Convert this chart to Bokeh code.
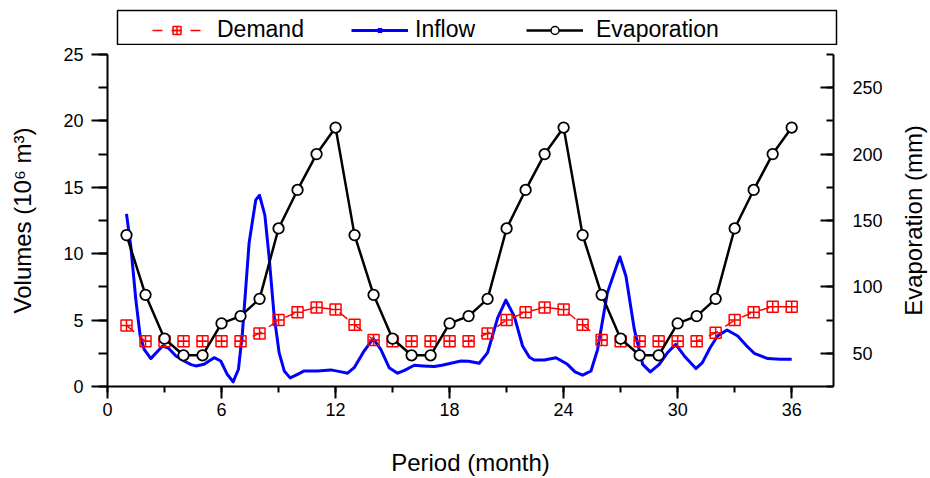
from bokeh.plotting import figure
from bokeh.layouts import column, row
from bokeh.models import (Range1d, LinearAxis, SingleIntervalTicker, Legend,
                          LegendItem, BoxAnnotation, Label)
from bokeh.embed import file_html
from bokeh.resources import INLINE
import math

# ---------------- data ----------------
months = list(range(1, 37))

demand = [4.6, 3.4, 3.4, 3.4, 3.4, 3.4, 3.4, 4.0, 5.0, 5.6, 5.95, 5.8,
          4.65, 3.5, 3.4, 3.4, 3.4, 3.4, 3.4, 4.0, 5.0, 5.6, 5.95, 5.8,
          4.65, 3.5, 3.4, 3.4, 3.4, 3.4, 3.4, 4.05, 5.0, 5.6, 6.0, 6.0]

evaporation = [139, 94, 61, 48.5, 48.5, 72.5, 78, 91, 144, 173, 200, 220,
               139, 94, 61, 48.5, 48.5, 72.5, 78, 91, 144, 173, 200, 220,
               139, 94, 61, 48.5, 48.5, 72.5, 78, 91, 144, 173, 200, 220]

# inflow curve, read along the drawn (smoothed) line
inflow_month = [1.0, 1.23, 1.49, 1.72, 1.93, 2.28, 2.6, 2.9, 3.2, 3.6,
                4.03, 4.4, 4.65, 5.08, 5.61, 5.96, 6.3, 6.61, 6.89, 7.1,
                7.45, 7.8, 8.0, 8.28, 8.5, 8.77, 9.03, 9.3, 9.61, 10.0,
                10.35, 11.05, 11.75, 12.3, 12.63, 12.98, 13.5, 13.98, 14.38, 14.82,
                15.26, 15.6, 16.14, 16.6, 17.19, 17.6, 18.07, 18.6, 19.0, 19.56,
                20.0, 20.53, 20.96, 21.4, 21.84, 22.2, 22.45, 22.98, 23.6, 24.2,
                24.6, 25.0, 25.44, 25.79, 26.3, 26.84, 26.96, 27.28, 27.72, 28.16,
                28.56, 29.03, 29.5, 29.9, 30.35, 30.96, 31.3, 31.7, 32.1, 32.6,
                33.16, 33.6, 34.03, 34.74, 35.4, 36.0]
inflow = [13.0, 10.5, 6.55, 3.8, 2.8, 2.1, 2.6, 3.05, 2.9, 2.3,
          1.92, 1.65, 1.55, 1.67, 2.17, 1.92, 0.92, 0.35, 1.3, 4.05,
          10.8, 14.05, 14.4, 12.9, 9.8, 5.3, 2.55, 1.17, 0.65, 0.92,
          1.17, 1.17, 1.25, 1.1, 1.0, 1.42, 2.67, 3.6, 2.8, 1.42,
          1.0, 1.2, 1.6, 1.55, 1.5, 1.6, 1.75, 1.92, 1.9, 1.75,
          2.55, 5.17, 6.5, 5.3, 3.05, 2.2, 2.0, 2.0, 2.17, 1.67,
          1.1, 0.85, 1.17, 2.8, 7.05, 9.3, 9.75, 8.3, 4.3, 1.67,
          1.1, 1.67, 2.6, 3.17, 2.3, 1.35, 1.8, 2.9, 3.8, 4.25,
          3.8, 3.1, 2.5, 2.1, 2.05, 2.05]

FONT = "Liberation Sans"
RED = "#FF0000"
BLUE = "#0000FF"

# ---------------- main plot ----------------
p = figure(width=890, height=433, output_backend="svg", toolbar_location=None,
           x_range=Range1d(0, 38.2), y_range=Range1d(0, 25),
           min_border_left=107, min_border_right=57, min_border_top=9,
           min_border_bottom=91,
           x_axis_label="Period (month)", y_axis_label="Volumes (10⁶ m³)")
p.extra_y_ranges = {"evap": Range1d(25, 275)}
p.outline_line_color = None
p.grid.visible = False
p.background_fill_color = "white"
p.border_fill_color = "white"


def style(ax):
    ax.axis_line_width = 2
    ax.axis_line_color = "black"
    ax.major_tick_line_width = 2
    ax.minor_tick_line_width = 2
    ax.major_tick_line_color = "black"
    ax.minor_tick_line_color = "black"
    ax.major_label_text_font = FONT
    ax.major_label_text_font_size = "18px"
    ax.major_label_text_color = "black"
    ax.axis_label_text_font = FONT
    ax.axis_label_text_font_size = "24px"
    ax.axis_label_text_font_style = "normal"
    ax.axis_label_text_color = "black"


xa = p.xaxis[0]
style(xa)
xa.ticker = SingleIntervalTicker(interval=6, num_minor_ticks=2)
xa.major_tick_in = 0
xa.major_tick_out = 12
xa.minor_tick_in = 0
xa.minor_tick_out = 6
xa.major_label_standoff = 4
xa.axis_label_standoff = 30

ya = p.yaxis[0]
style(ya)
ya.ticker = SingleIntervalTicker(interval=5, num_minor_ticks=2)
ya.major_tick_in = 0
ya.major_tick_out = 16
ya.minor_tick_in = 0
ya.minor_tick_out = 9
ya.major_label_standoff = 8
ya.axis_label_standoff = 24

ra = LinearAxis(y_range_name="evap",
                ticker=SingleIntervalTicker(interval=50, num_minor_ticks=2))
style(ra)
ra.major_tick_in = 13
ra.major_tick_out = 0
ra.minor_tick_in = 7
ra.minor_tick_out = 0
ra.major_label_standoff = 19
p.add_layout(ra, "right")

# ---------------- series ----------------
p.line(inflow_month, inflow, line_color=BLUE, line_width=3,
       line_join="round")

p.line(months, demand, line_color=RED, line_width=1.5, line_dash="10 9")
p.scatter(months, demand, marker="square_cross", size=11,
          fill_alpha=0, line_color=RED, line_width=1.5)

p.line(months, evaporation, y_range_name="evap",
       line_color="black", line_width=2.5, line_join="round")
p.scatter(months, evaporation, y_range_name="evap", marker="circle",
          size=10.5, fill_color="white", line_color="black", line_width=1.8)

# ---------------- right-hand axis title (reads bottom to top) ----------------
rf = figure(width=40, height=433, output_backend="svg", toolbar_location=None,
            x_range=Range1d(890, 930), y_range=Range1d(0, 1),
            x_axis_type=None, y_axis_type=None,
            min_border_left=0, min_border_right=0, min_border_top=9,
            min_border_bottom=91)
rf.outline_line_color = None
rf.background_fill_color = "white"
rf.border_fill_color = "white"
rf.add_layout(Label(x=913, y=0.5, text="Evaporation (mm)", angle=math.pi / 2,
                    text_align="center", text_baseline="middle",
                    text_font=FONT, text_font_size="24px", text_color="black"))

# ---------------- legend strip above the plot ----------------
lf = figure(width=930, height=45, output_backend="svg", toolbar_location=None,
            x_range=Range1d(107, 840), y_range=Range1d(45, 0),
            x_axis_type=None, y_axis_type=None,
            min_border_left=107, min_border_right=90, min_border_top=0,
            min_border_bottom=0)
lf.outline_line_color = None
lf.background_fill_color = "white"
lf.border_fill_color = "white"

# legend-key renderers (their data lie outside this strip's ranges)
d_line = lf.line(months, demand, line_color=RED, line_width=1.5,
                 line_dash="10 9")
d_pts = lf.scatter(months, demand, marker="square_cross", fill_alpha=0,
                   line_color=RED, line_width=1.5)
i_line = lf.line(inflow_month, inflow, line_color=BLUE, line_width=3)
i_pts = lf.scatter(inflow_month, inflow, marker="square", fill_color=BLUE,
                   line_color=BLUE)
e_line = lf.line(months, evaporation, line_color="black", line_width=2.5)
e_pts = lf.scatter(months, evaporation, marker="circle", fill_color="white",
                   line_color="black", line_width=1.5)

LEG_Y = 2


def add_legend(label, renderers, x, gw, gh, standoff):
    lg = Legend(items=[LegendItem(label=label, renderers=renderers)],
                location=(x, LEG_Y), orientation="horizontal",
                glyph_width=gw, glyph_height=gh, label_height=gh,
                label_standoff=standoff, padding=0, margin=0, spacing=0,
                border_line_alpha=0, background_fill_alpha=0,
                label_text_font=FONT, label_text_font_size="23px",
                label_text_color="black")
    lf.add_layout(lg, "center")


add_legend("Demand", [d_line, d_pts], 45, 49, 20, 16)
add_legend("Inflow", [i_line, i_pts], 244, 57, 10, 7)
add_legend("Evaporation", [e_line, e_pts], 419, 57, 20, 13)

box = BoxAnnotation(left=117, right=836, top=10, bottom=44,
                    fill_alpha=0, line_color="black", line_alpha=1,
                    line_width=1.5)
lf.add_layout(box)

layout = column(lf, row(p, rf, spacing=0), spacing=0)
open("out.html", "w").write(file_html(layout, INLINE))
